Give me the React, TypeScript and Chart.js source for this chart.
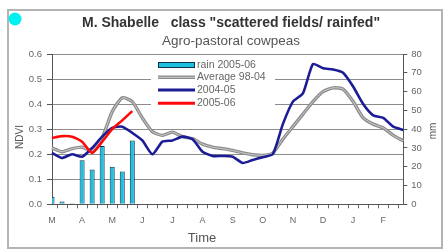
import React, { useEffect, useRef } from 'react';
import { Chart, registerables } from 'chart.js';

Chart.register(...registerables);

// ---- data ----
const MONTHS = ['M', 'A', 'M', 'J', 'J', 'A', 'S', 'O', 'N', 'D', 'J', 'F'];
const DEKADS = MONTHS.flatMap((m, i) => [1, 2, 3].map((d) => `${m}${i}-${d}`));

const RAIN_2005_06 = [4, 1.5, 0.5, 23.5, 18.5, 31, 20, 17.5, 34];
const AVG_98_04 = [
  0.225, 0.21, 0.222, 0.228, 0.215, 0.265, 0.37, 0.425, 0.41, 0.345, 0.29, 0.275,
  0.288, 0.27, 0.262, 0.24, 0.228, 0.222, 0.215, 0.205, 0.198, 0.195, 0.205, 0.26,
  0.31, 0.36, 0.41, 0.45, 0.465, 0.46, 0.41, 0.345, 0.32, 0.305, 0.275, 0.253,
];
const NDVI_2004_05 = [
  0.205, 0.185, 0.2, 0.19, 0.225, 0.27, 0.305, 0.31, 0.285, 0.255, 0.2, 0.25,
  0.255, 0.27, 0.26, 0.21, 0.193, 0.193, 0.19, 0.165, 0.177, 0.188, 0.2, 0.32,
  0.41, 0.443, 0.56, 0.543, 0.538, 0.525, 0.47, 0.4, 0.355, 0.345, 0.31, 0.297,
];
const NDVI_2005_06 = [0.265, 0.272, 0.27, 0.25, 0.205, 0.25, 0.3, 0.335, 0.372];

const TITLE = 'M. Shabelle   class "scattered fields/ rainfed"';
const SUBTITLE = 'Agro-pastoral cowpeas';
const X_TITLE = 'Time';
const Y_TITLE = 'NDVI';
const Y1_TITLE = 'mm';
const LEGEND = ['rain 2005-06', 'Average 98-04', '2004-05', '2005-06'];

const FONT = '"Liberation Sans", Arial, sans-serif';
const CYAN = '#1ec0e0';
const BAR_EDGE = '#0a3350';
const GRAY = '#8c8c8c';
const GRAY_HI = '#cdcdcd';
const BLUE = '#1c1c96';
const RED = '#ff0a0a';

const decor = {
  id: 'decor',
  afterDraw(chart: any) {
    const ctx: CanvasRenderingContext2D = chart.ctx;
    ctx.save();
    // outer frame
    ctx.strokeStyle = '#b4b4b4';
    ctx.lineWidth = 2;
    ctx.strokeRect(8, 10, 434, 238);
    // cyan dot
    ctx.fillStyle = '#00f0f0';
    ctx.beginPath();
    ctx.arc(15, 19, 6.5, 0, Math.PI * 2);
    ctx.fill();
    // titles
    ctx.textAlign = 'center';
    ctx.textBaseline = 'middle';
    ctx.fillStyle = '#333';
    ctx.font = `bold 14px ${FONT}`;
    ctx.fillText(TITLE, 231, 23);
    ctx.fillStyle = '#555';
    ctx.font = `13.5px ${FONT}`;
    ctx.fillText(SUBTITLE, 231, 41);
    ctx.font = `13px ${FONT}`;
    ctx.fillText(X_TITLE, 202, 238);
    ctx.save();
    ctx.translate(20, 137);
    ctx.rotate(-Math.PI / 2);
    ctx.font = `10px ${FONT}`;
    ctx.fillText(Y_TITLE, 0, 0);
    ctx.restore();
    ctx.save();
    ctx.translate(433, 131);
    ctx.rotate(-Math.PI / 2);
    ctx.font = `10px ${FONT}`;
    ctx.fillText(Y1_TITLE, 0, 0);
    ctx.restore();
    // legend
    ctx.fillStyle = '#fff';
    ctx.fillRect(151, 58, 124, 51);
    const rows = [65, 77.3, 90, 103.3];
    const x0 = 158;
    const x1 = 195;
    // rain
    ctx.fillStyle = CYAN;
    ctx.fillRect(x0, rows[0] - 2.5, x1 - x0, 5);
    ctx.strokeStyle = BAR_EDGE;
    ctx.lineWidth = 1;
    ctx.strokeRect(x0 + 0.5, rows[0] - 2.5, x1 - x0 - 1, 5);
    const line = (y: number, c: string, w: number) => {
      ctx.strokeStyle = c;
      ctx.lineWidth = w;
      ctx.beginPath();
      ctx.moveTo(x0, y);
      ctx.lineTo(x1, y);
      ctx.stroke();
    };
    line(rows[1], GRAY, 3.5);
    line(rows[1], GRAY_HI, 1);
    line(rows[2], BLUE, 3);
    line(rows[3], RED, 3);
    ctx.fillStyle = '#666';
    ctx.font = `10.5px ${FONT}`;
    ctx.textAlign = 'left';
    LEGEND.forEach((t, i) => ctx.fillText(t, 197, rows[i]));
    ctx.restore();
  },
};

export default function App() {
  const ref = useRef<HTMLCanvasElement>(null);
  useEffect(() => {
    const canvas = ref.current!;
    const chart = new Chart(canvas, {
      type: 'bar',
      data: {
        labels: DEKADS,
        datasets: [
          {
            type: 'line',
            label: LEGEND[3],
            data: NDVI_2005_06,
            borderColor: RED,
            borderWidth: 2.6,
            pointRadius: 0,
            tension: 0.2,
            yAxisID: 'y',
            order: 1,
          } as any,
          {
            type: 'line',
            label: LEGEND[2],
            data: NDVI_2004_05,
            borderColor: BLUE,
            borderWidth: 2.6,
            pointRadius: 0,
            tension: 0.2,
            yAxisID: 'y',
            order: 2,
          },
          {
            type: 'line',
            label: LEGEND[1] + ' hi',
            data: AVG_98_04,
            borderColor: GRAY_HI,
            borderWidth: 1,
            pointRadius: 0,
            tension: 0.2,
            yAxisID: 'y',
            order: 3,
          },
          {
            type: 'line',
            label: LEGEND[1],
            data: AVG_98_04,
            borderColor: GRAY,
            borderWidth: 3.4,
            pointRadius: 0,
            tension: 0.2,
            yAxisID: 'y',
            order: 4,
          },
          {
            type: 'bar',
            label: LEGEND[0],
            data: RAIN_2005_06,
            backgroundColor: CYAN,
            borderColor: BAR_EDGE,
            borderWidth: 1,
            barPercentage: 0.5,
            categoryPercentage: 1,
            yAxisID: 'y1',
            order: 10,
            clip: 0,
          } as any,
        ],
      },
      options: {
        responsive: false,
        animation: false,
        layout: { padding: { top: 54, left: 0, right: 0, bottom: 0 } },
        plugins: {
          legend: { display: false },
          title: { display: false },
          tooltip: { enabled: false },
        },
        scales: {
          x: {
            type: 'category',
            offset: false,
            grid: {
              display: true,
              drawOnChartArea: false,
              drawTicks: true,
              tickLength: 4,
              tickColor: '#666',
            },
            border: { display: true, color: '#555', width: 1 },
            ticks: {
              autoSkip: false,
              maxRotation: 0,
              minRotation: 0,
              padding: 7,
              color: '#666',
              font: { size: 9, family: FONT },
              callback: (_v: any, i: number) => (i % 3 === 0 ? MONTHS[i / 3] : ''),
            },
            afterFit: (s: any) => {
              s.height = 251 - 204.3;
            },
          },
          y: {
            position: 'left',
            min: 0,
            max: 0.6,
            grid: { color: '#8c8c8c', tickLength: 5, tickColor: '#555' },
            border: { display: true, color: '#555', width: 1 },
            ticks: {
              stepSize: 0.1,
              padding: 5,
              color: '#666',
              font: { size: 9.5, family: FONT },
              callback: (v: any) => Number(v).toFixed(1),
            },
            afterFit: (s: any) => {
              s.width = 52;
            },
          },
          y1: {
            position: 'right',
            min: 0,
            max: 80,
            grid: { drawOnChartArea: false, tickLength: 4, tickColor: '#555' },
            border: { display: true, color: '#555', width: 1 },
            ticks: {
              stepSize: 10,
              padding: 4,
              color: '#666',
              font: { size: 9.5, family: FONT },
            },
            afterFit: (s: any) => {
              s.width = 444 - 403.3;
            },
          },
        },
      },
      plugins: [decor],
    } as any);
    return () => chart.destroy();
  }, []);
  return (
    <div style={{ position: 'absolute', left: 0, top: 0, width: 444, height: 251, background: '#fff' }}>
      <canvas ref={ref} width={444} height={251} style={{ display: 'block', width: 444, height: 251 }} />
    </div>
  );
}
